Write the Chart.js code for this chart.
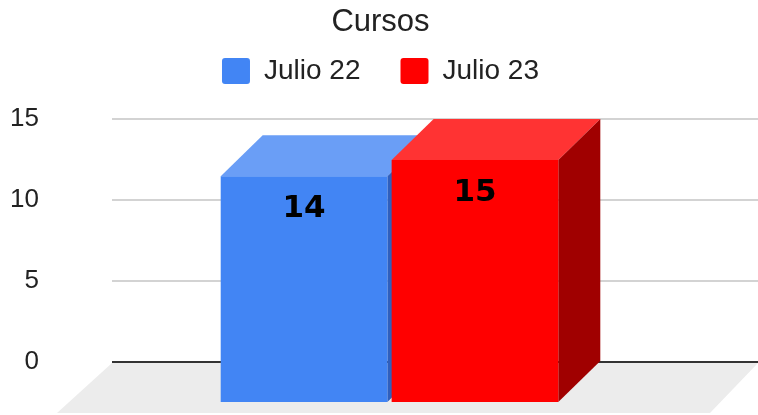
<!DOCTYPE html>
<html>
<head>
<meta charset="utf-8">
<script src="https://cdn.jsdelivr.net/npm/chart.js@4.4.0/dist/chart.umd.min.js"></script>
<style>
  html, body { margin: 0; padding: 0; background: #fff; }
  #wrap { width: 758px; height: 415px; }
</style>
</head>
<body>
<div id="wrap"><canvas id="cursosChart"></canvas></div>
<script>
const categories = [''];
const seriesNames = ['Julio 22', 'Julio 23'];
const julio22 = [14];
const julio23 = [15];
const yTicks = [0, 5, 10, 15];

const frontColors = ['#4285f4', '#ff0000'];
const topColors = ['#6a9ef6', '#ff3333'];
const sideColors = ['#2f5fbd', '#a00000'];

// 3d depth of the bars (front face is shifted left/down from the back wall)
const DEPTH_X = 42, DEPTH_Y = 41;
const FLOOR_DEPTH = 51;

const gridColor = v => v === 0 ? '#333' : '#d3d3d3';

// extra room between legend and plot
const legendSpacer = {
    id: 'legendSpacer',
    beforeInit(chart) {
        const fit = chart.legend.fit;
        chart.legend.fit = function () {
            fit.bind(chart.legend)();
            this.height += 24;
        };
    }
};

const bars3d = {
    id: 'bars3d',
    beforeDatasetsDraw(chart) {
        const ctx = chart.ctx;
        const area = chart.chartArea;
        const yScale = chart.scales.y;
        const yBase = yScale.getPixelForValue(0);
        ctx.save();
        // gridlines run on to the right edge
        ctx.lineWidth = 2;
        yScale.ticks.forEach(t => {
            const y = yScale.getPixelForValue(t.value);
            ctx.strokeStyle = gridColor(t.value);
            ctx.beginPath();
            ctx.moveTo(area.right - 1, y);
            ctx.lineTo(chart.width, y);
            ctx.stroke();
        });
        // floor
        ctx.fillStyle = '#ececec';
        ctx.beginPath();
        ctx.moveTo(area.left, yBase + 1);
        ctx.lineTo(chart.width, yBase + 1);
        ctx.lineTo(chart.width - FLOOR_DEPTH + 3, yBase + FLOOR_DEPTH);
        ctx.lineTo(area.left - FLOOR_DEPTH - 4, yBase + FLOOR_DEPTH);
        ctx.closePath();
        ctx.fill();
        // top and side faces, first series first
        chart.data.datasets.forEach((ds, i) => {
            chart.getDatasetMeta(i).data.forEach(bar => {
                const l = bar.x - bar.width / 2, r = bar.x + bar.width / 2;
                const t = bar.y, b = bar.base;
                ctx.fillStyle = topColors[i];
                ctx.beginPath();
                ctx.moveTo(l, t);
                ctx.lineTo(r, t);
                ctx.lineTo(r - DEPTH_X, t + DEPTH_Y);
                ctx.lineTo(l - DEPTH_X, t + DEPTH_Y);
                ctx.closePath();
                ctx.fill();
                ctx.fillStyle = sideColors[i];
                ctx.beginPath();
                ctx.moveTo(r, t);
                ctx.lineTo(r, b);
                ctx.lineTo(r - DEPTH_X, b + DEPTH_Y);
                ctx.lineTo(r - DEPTH_X, t + DEPTH_Y);
                ctx.closePath();
                ctx.fill();
            });
        });
        ctx.restore();
    },
    // front faces are drawn by chart.js, just moved forward
    beforeDatasetDraw(chart) {
        chart.ctx.save();
        chart.ctx.translate(-DEPTH_X, DEPTH_Y);
    },
    afterDatasetDraw(chart) {
        chart.ctx.restore();
    },
    afterDatasetsDraw(chart) {
        const ctx = chart.ctx;
        ctx.save();
        ctx.fillStyle = '#000';
        ctx.font = 'bold 31px "DejaVu Sans"';
        ctx.textAlign = 'center';
        ctx.textBaseline = 'middle';
        chart.data.datasets.forEach((ds, i) => {
            chart.getDatasetMeta(i).data.forEach((bar, j) => {
                ctx.fillText(String(ds.data[j]), bar.x - DEPTH_X, bar.y + DEPTH_Y + 33);
            });
        });
        ctx.restore();
    }
};

const ctx = document.getElementById('cursosChart').getContext('2d');
const cursosChart = new Chart(ctx, {
    type: 'bar',
    data: {
        labels: categories,
        datasets: [{
            label: seriesNames[0],
            data: julio22,
            backgroundColor: frontColors[0],
            clip: false
        }, {
            label: seriesNames[1],
            data: julio23,
            backgroundColor: frontColors[1],
            clip: false
        }]
    },
    options: {
        responsive: true,
        maintainAspectRatio: false,
        animation: false,
        categoryPercentage: 0.535,
        barPercentage: 0.975,
        layout: { padding: { left: 10, right: 7, top: 4, bottom: 53 } },
        plugins: {
            tooltip: { enabled: false },
            title: {
                display: true,
                text: 'Cursos',
                color: '#222',
                font: { family: 'Liberation Sans', size: 31, weight: 'normal' },
                padding: { top: 0, bottom: -24.2 }
            },
            legend: {
                labels: {
                    color: '#222',
                    font: { family: 'Liberation Sans', size: 28 },
                    boxWidth: 28,
                    boxHeight: 26,
                    useBorderRadius: true,
                    borderRadius: 3,
                    padding: 40
                }
            }
        },
        scales: {
            x: { display: false },
            y: {
                min: 0,
                max: 15,
                afterBuildTicks: scale => { scale.ticks = yTicks.map(v => ({ value: v })); },
                afterFit: scale => {
                    scale.width = 102;
                    scale.paddingTop = 0;
                    scale.paddingBottom = 0;
                },
                border: { display: false },
                grid: {
                    drawTicks: false,
                    lineWidth: 2,
                    color: c => gridColor(c.tick.value)
                },
                ticks: {
                    padding: 73,
                    color: '#222',
                    font: { family: 'Liberation Sans', size: 26 }
                }
            }
        }
    },
    plugins: [legendSpacer, bars3d]
});
</script>
</body>
</html>
